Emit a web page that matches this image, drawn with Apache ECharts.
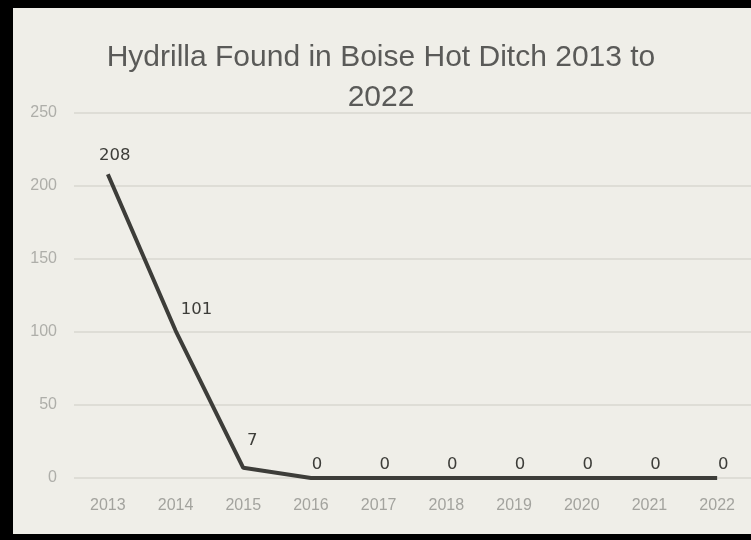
<!DOCTYPE html>
<html>
<head>
<meta charset="utf-8">
<script src="https://cdn.jsdelivr.net/npm/echarts@6/dist/echarts.min.js"></script>
<style>
  html, body { margin: 0; padding: 0; background: #000; }
  body { width: 751px; height: 540px; position: relative; overflow: hidden; }
  #main { position: absolute; left: 13px; top: 8px; width: 738px; height: 526px; background: #efeee8; }
</style>
</head>
<body>
<div id="main"></div>
<script>
  var years = ['2013', '2014', '2015', '2016', '2017', '2018', '2019', '2020', '2021', '2022']
  var hydrilla = [208, 101, 7, 0, 0, 0, 0, 0, 0, 0]
  var yTicks = [0, 50, 100, 150, 200, 250]

  var chart = echarts.init(document.getElementById('main'))

  // label nudges as placed in the original slide
  function labelOffset(i) {
    if (i === 0) return [7, -6]
    if (i === 1) return [21, -8]
    if (i === 2) return [9, -14]
    return [6, 0]
  }

  var option = {
    backgroundColor: '#efeee8',
    animation: false,
    title: {
      text: 'Hydrilla Found in Boise Hot Ditch 2013 to\n2022',
      left: 363,
      top: 25,
      textAlign: 'center',
      textStyle: {
        fontFamily: 'Liberation Sans',
        fontSize: 30,
        fontWeight: 'normal',
        color: '#5a5a58',
        lineHeight: 40
      }
    },
    grid: {
      left: 61,
      right: 0,
      top: 105,
      bottom: 56,
      containLabel: false
    },
    xAxis: {
      type: 'category',
      data: years,
      boundaryGap: true,
      axisLine: { show: false },
      axisTick: { show: false },
      axisLabel: {
        margin: 20,
        fontFamily: 'Liberation Sans',
        fontSize: 16,
        color: '#a3a39e'
      }
    },
    yAxis: {
      type: 'value',
      min: yTicks[0],
      max: yTicks[yTicks.length - 1],
      interval: yTicks[1] - yTicks[0],
      axisLine: { show: false },
      axisTick: { show: false },
      splitLine: { lineStyle: { color: '#d8d7d0', width: 1.5 } },
      axisLabel: {
        margin: 17,
        fontFamily: 'Liberation Sans',
        fontSize: 16,
        color: '#aeaea9'
      }
    },
    series: [
      {
        type: 'line',
        data: hydrilla.map(function (v, i) {
          return { value: v, label: { offset: labelOffset(i) } }
        }),
        symbol: 'circle',
        symbolSize: 1,
        showSymbol: true,
        itemStyle: { color: 'rgba(0,0,0,0)', borderWidth: 0 },
        lineStyle: { color: '#3d3d39', width: 4 },
        label: {
          show: true,
          position: 'top',
          distance: 4,
          fontFamily: 'DejaVu Sans',
          fontSize: 16.5,
          color: '#3d3d39'
        }
      }
    ]
  }

  chart.setOption(option)
</script>
</body>
</html>
